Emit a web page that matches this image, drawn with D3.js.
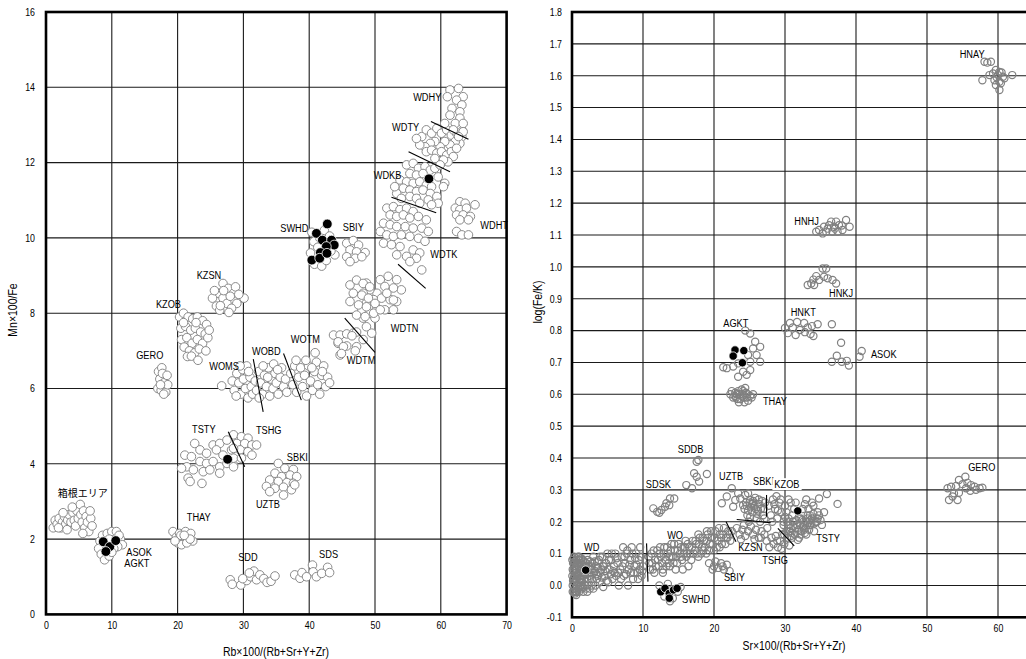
<!DOCTYPE html>
<html><head><meta charset="utf-8">
<script src="https://cdn.jsdelivr.net/npm/d3@7"></script>
<style>
html,body{margin:0;padding:0;background:#fff;}
svg{display:block;}
text{font-family:'Liberation Sans',Arial,sans-serif;fill:#000;}
</style></head><body>
<svg id="chart" width="1026" height="659"></svg>
<script>
// ---------- Left diagram: Mn×100/Fe against Rb×100/(Rb+Sr+Y+Zr) ----------
const mnHakone = [[1.1,2.3],[1.4,2.5],[1.7,2.4],[2.0,2.55],[2.3,2.3],[2.5,2.45],[2.8,2.6],[3.0,2.4],[3.3,2.5],[3.5,2.65],[3.2,2.25],[3.8,2.45],[4.1,2.7],[4.3,2.5],[4.5,2.35],[4.7,2.75],[4.9,2.55],[5.2,2.92],[5.3,2.65],[5.5,2.45],[5.7,2.75],[5.9,2.3],[6.1,2.6],[6.3,2.45],[6.5,2.2],[6.8,2.55],[7.0,2.35],[2.6,2.7],[4.0,2.85],[5.6,2.15],[1.9,2.3],[6.7,2.75]];
const mnAsokAgkt = [[8.2,1.95],[8.6,2.1],[9.3,2.15],[10.0,2.2],[10.7,2.2],[11.3,2.0],[11.6,1.85],[10.9,1.8],[10.3,1.75],[8.0,1.75],[8.4,1.6],[8.9,1.45],[9.6,1.55],[10.0,1.65],[11.1,2.1],[9.6,2.0]];
const mnAsokAgktDark = [[8.7,1.93],[9.7,1.8],[10.6,1.96],[9.1,1.67]];
const mnGero = [[17.1,6.45],[17.6,6.55],[18.1,6.35],[17.3,6.25],[17.9,6.15],[17.0,6.0],[17.5,5.95],[18.2,5.9],[18.5,6.1],[17.7,6.4],[18.4,6.35],[17.4,6.1],[17.9,5.85]];
const mnKzob = [[20.3,7.9],[20.9,8.0],[21.6,7.9],[22.3,7.85],[23.0,7.9],[23.8,7.8],[24.4,7.7],[20.5,7.6],[21.2,7.65],[22.0,7.55],[22.7,7.6],[23.5,7.5],[24.2,7.45],[20.6,7.3],[21.4,7.35],[22.2,7.2],[23.0,7.3],[23.8,7.2],[24.6,7.35],[21.0,7.1],[21.8,7.0],[22.6,6.95],[23.3,7.05],[24.3,7.0],[21.5,6.85],[22.1,6.86],[23.1,6.75],[20.9,7.75],[22.8,7.75],[24.8,7.55]];
const mnKzsn = [[26.9,8.79],[27.7,8.66],[26.2,8.53],[25.3,8.4],[26.9,8.4],[28.5,8.53],[29.7,8.4],[27.5,8.26],[29.0,8.26],[25.9,8.19],[28.2,8.13],[26.4,8.08],[30.1,8.4],[28.8,8.7],[28.0,8.45],[27.0,8.6],[29.3,8.5],[26.5,8.2],[27.8,8.02],[25.6,8.6]];
const mnWoms = [[26.7,6.07],[28.3,6.2],[28.6,5.95],[29.0,6.4],[29.3,6.15],[29.6,5.85],[29.9,6.5],[30.0,6.25],[30.3,6.0],[30.5,6.6],[30.7,5.75],[31.0,6.3],[31.2,6.05],[29.5,6.6],[30.8,6.45],[28.9,5.8],[31.4,5.85]];
const mnWobd = [[31.8,6.2],[32.0,5.95],[32.3,6.45],[32.6,6.15],[32.9,5.85],[33.2,6.35],[33.5,6.05],[33.8,6.55],[34.0,5.8],[34.2,6.25],[34.5,6.0],[34.8,6.4],[35.0,6.15],[35.3,5.85],[35.6,6.3],[35.8,6.55],[36.1,6.05],[36.4,6.25],[36.6,5.9],[33.0,6.6],[34.6,6.65],[35.2,6.5],[32.4,5.75],[33.7,6.3]];
const mnWotm = [[37.2,6.4],[37.5,6.1],[37.8,6.6],[38.1,5.9],[38.4,6.3],[38.7,6.55],[39.0,6.05],[39.3,6.35],[39.6,5.8],[39.9,6.6],[40.2,6.2],[40.5,5.95],[40.8,6.45],[41.1,6.7],[41.3,6.1],[41.6,5.85],[41.9,6.35],[42.2,6.6],[42.5,6.05],[42.8,6.3],[43.1,6.15],[40.9,6.95],[39.5,6.75],[38.0,6.75],[40.4,6.55],[42.0,6.45]];
const mnTsty = [[22.6,4.54],[21.1,4.23],[22.1,4.19],[23.4,4.37],[24.4,4.28],[25.4,4.5],[26.4,4.54],[25.9,4.37],[26.9,4.23],[23.4,4.06],[24.4,4.01],[21.4,3.92],[22.4,3.84],[20.6,3.88],[25.4,4.06],[26.4,3.92],[27.5,4.01],[28.5,3.97],[28.2,4.37],[23.9,3.79],[21.6,3.62],[23.7,3.48],[21.9,3.53],[26.4,3.75],[24.9,3.84],[28.5,4.15],[27.5,4.63]];
const mnTstyDark = [[27.6,4.12]];
const mnTshg = [[28.5,4.77],[29.7,4.72],[30.7,4.68],[29.0,4.54],[30.2,4.54],[31.3,4.5],[29.5,4.37],[30.7,4.32],[32.0,4.5],[28.5,4.41],[31.3,4.23],[29.7,4.15],[28.5,3.92]];
const mnUztb = [[35.3,4.01],[36.3,3.88],[37.6,3.85],[34.8,3.75],[35.8,3.66],[37.1,3.7],[38.1,3.66],[34.0,3.57],[35.3,3.53],[36.6,3.5],[37.6,3.48],[33.5,3.4],[34.8,3.35],[36.1,3.38],[37.3,3.31],[34.0,3.26],[36.1,3.17],[37.8,3.44]];
const mnThay = [[19.3,2.2],[19.8,2.05],[20.3,2.15],[20.8,2.0],[21.2,2.2],[21.6,2.05],[22.0,2.15],[22.3,1.95],[20.0,1.9],[20.6,1.85],[21.4,1.9],[21.9,2.0],[20.5,2.1],[21.0,2.1],[19.6,1.95]];
const mnSdd = [[28.0,0.92],[28.3,0.8],[29.6,0.78],[30.5,0.9],[31.1,1.0],[31.6,1.15],[32.0,0.92],[32.5,1.05],[33.1,0.95],[33.6,0.85],[34.2,0.88],[34.8,1.02],[30.9,1.1],[29.9,0.95]];
const mnSds = [[37.8,1.05],[38.6,0.96],[38.9,1.11],[40.5,1.31],[40.6,1.13],[41.1,1.0],[41.9,1.09],[42.8,1.25],[43.1,1.11],[39.6,1.0]];
const mnSwhd = [[40.4,10.15],[40.2,9.6],[40.7,9.9],[41.6,10.0],[42.3,10.2],[43.1,10.05],[43.9,9.55],[40.8,9.3],[41.9,9.25],[42.6,9.4],[43.3,9.65],[41.3,9.75]];
const mnSwhdDark = [[42.75,10.37],[41.1,10.12],[42.0,9.94],[43.4,9.94],[43.8,9.81],[42.6,9.77],[41.7,9.61],[40.4,9.41],[41.6,9.46],[42.7,9.59]];
const mnSbiy = [[45.7,9.86],[46.7,9.93],[47.5,9.81],[46.2,9.68],[47.2,9.63],[48.5,9.61],[45.7,9.5],[47.0,9.46],[46.2,9.37],[48.0,9.5]];
const mnWdtm = [[43.7,7.42],[44.7,7.42],[45.7,7.45],[46.7,7.47],[44.4,7.2],[45.7,7.13],[47.2,7.11],[44.7,6.89],[48.2,7.3],[44.4,7.24],[45.2,7.11],[47.0,7.0],[44.9,6.93],[47.2,7.5],[46.5,7.4]];
const mnWdtn = [[50.8,8.89],[52.0,8.98],[53.3,8.89],[54.0,8.62],[52.8,8.67],[51.5,8.71],[50.3,8.53],[48.7,8.8],[49.2,8.62],[48.2,8.53],[49.8,8.36],[51.0,8.4],[52.3,8.36],[53.3,8.31],[48.7,8.27],[50.3,8.13],[51.5,8.09],[52.8,8.09],[49.2,8.0],[48.2,7.87],[50.0,7.87],[48.7,7.64],[49.5,7.47],[48.0,8.09],[46.2,8.75],[47.2,8.88],[48.2,8.79],[49.2,8.7],[46.7,8.53],[48.0,8.48],[49.0,8.4],[46.2,8.31],[47.5,8.22],[48.7,8.17],[50.0,8.26],[47.2,7.95],[48.5,7.91],[49.8,8.0],[50.8,8.09],[51.8,8.53],[52.8,8.35]];
const mnWdtk = [[51.8,10.79],[52.8,10.83],[53.8,10.75],[54.8,10.79],[55.8,10.7],[52.3,10.61],[53.3,10.57],[54.3,10.61],[55.3,10.53],[56.6,10.57],[57.8,10.48],[57.1,10.26],[58.1,10.17],[51.3,10.39],[52.3,10.35],[53.3,10.3],[54.6,10.3],[55.8,10.26],[50.8,10.17],[51.8,10.08],[52.8,10.04],[54.0,10.08],[55.3,10.04],[56.6,9.99],[57.6,9.91],[51.3,9.86],[52.5,9.82],[53.8,9.77],[55.8,9.68],[56.8,9.6],[54.8,9.51],[56.3,9.46],[57.1,9.15],[55.3,9.37],[53.3,9.55]];
const mnWdkb = [[54.8,11.94],[55.8,11.98],[56.6,11.85],[57.6,11.89],[58.4,11.8],[59.1,11.85],[59.9,11.94],[55.3,11.71],[56.3,11.67],[57.3,11.71],[59.6,11.62],[60.6,11.45],[60.4,11.36],[53.8,11.54],[54.8,11.49],[55.8,11.45],[56.8,11.49],[57.8,11.4],[58.6,11.36],[54.3,11.32],[55.3,11.27],[56.3,11.23],[57.3,11.27],[58.4,11.18],[59.4,11.1],[59.6,10.92],[53.3,11.18],[54.0,11.05],[55.3,11.1],[56.3,11.05],[56.8,10.92],[58.1,11.01],[58.6,10.88],[53.0,11.36]];
const mnWdkbDark = [[58.2,11.57]];
const mnWdty = [[57.1,12.69],[57.8,12.87],[58.6,12.78],[59.4,12.91],[60.1,12.78],[60.9,12.87],[61.6,12.73],[62.4,12.78],[63.2,12.69],[62.9,12.51],[62.2,12.56],[61.4,12.47],[60.6,12.56],[59.9,12.42],[59.1,12.56],[58.4,12.51],[57.6,12.42],[56.8,12.47],[57.8,12.29],[58.6,12.33],[59.4,12.25],[60.1,12.29],[60.9,12.2],[61.6,12.29],[62.4,12.38],[61.9,12.16],[61.1,12.02],[60.4,12.07],[59.1,12.11],[59.9,11.94],[56.3,12.64],[63.2,12.87],[60.6,13.04],[62.4,13.0]];
const mnWdhy = [[61.4,13.93],[62.7,13.97],[63.4,13.75],[61.0,13.75],[62.4,13.66],[63.2,13.53],[61.7,13.44],[62.9,13.35],[61.4,13.26],[62.9,13.18],[62.2,13.04],[63.4,13.04],[61.9,12.87],[63.4,12.82],[62.7,12.69]];
const mnWdht = [[62.9,10.96],[63.7,10.92],[62.2,10.79],[62.9,10.75],[63.9,10.79],[65.2,10.88],[62.4,10.61],[63.4,10.61],[64.5,10.57],[62.9,10.48],[64.2,10.48],[62.4,10.17],[63.2,10.08],[64.2,10.08]];
const mnDividers = [
  [[58.5,13.09],[64.2,12.62]], [[55.1,12.29],[61.4,11.76]], [[52.5,11.08],[59.3,10.67]],
  [[53.5,9.30],[57.7,8.66]], [[45.4,7.87],[50.0,6.96]], [[31.5,6.78],[33.0,5.38]],
  [[36.1,6.93],[38.8,5.69]], [[27.7,4.85],[30.2,3.92]]
];
const mnLabels = [
  ['WDHY',55.8,13.74],['WDTY',52.6,12.95],['WDKB',49.8,11.67],['WDHT',66.0,10.34],
  ['WDTK',58.4,9.57],['WDTN',52.4,7.61],['WDTM',45.7,6.76],['WOTM',37.2,7.32],
  ['WOBD',31.3,7.0],['WOMS',24.8,6.6],['SWHD',35.6,10.26],['SBIY',45.1,10.29],
  ['KZSN',22.9,9.02],['KZOB',16.7,8.25],['GERO',13.7,6.88],['TSTY',22.2,4.92],
  ['TSHG',31.9,4.9],['SBKI',36.6,4.18],['UZTB',31.9,2.93],['箱根エリア',1.8,3.25],
  ['THAY',21.4,2.59],['ASOK',12.2,1.66],['AGKT',11.9,1.37],['SDD',29.2,1.53],['SDS',41.5,1.6]
];
const mnXTicks = [0,10,20,30,40,50,60,70];
const mnYTicks = [0,2,4,6,8,10,12,14,16];

// ---------- Right diagram: log(Fe/K) against Sr×100/(Rb+Sr+Y+Zr) ----------
const feWd = [[0.2,0.02],[0.3,0.06],[0.4,-0.01],[0.5,0.04],[0.6,0.08],[0.7,0.0],[0.8,0.03],[0.9,0.06],[1.0,-0.02],[1.1,0.02],[1.2,0.07],[1.3,0.05],[1.4,0.01],[1.5,0.08],[1.6,0.03],[1.8,0.0],[1.9,0.06],[2.1,0.02],[2.2,0.08],[2.4,0.04],[2.5,-0.01],[2.7,0.06],[2.8,0.02],[3.0,0.09],[3.1,0.04],[3.3,0.0],[3.4,0.06],[3.6,0.03],[3.8,0.08],[3.9,0.01],[4.1,0.05],[4.3,0.09],[4.4,-0.005],[4.6,0.03],[4.8,0.07],[5.0,0.1],[5.1,0.01],[5.3,0.05],[5.5,0.08],[5.7,0.02],[5.9,0.06],[6.1,0.1],[6.2,0.03],[6.4,0.07],[6.6,0.0],[6.8,0.05],[7.0,0.09],[7.2,0.12],[7.3,0.03],[7.5,0.07],[7.7,0.1],[7.9,0.0],[8.0,0.05],[8.2,0.08],[8.4,0.12],[8.6,0.02],[8.8,0.06],[9.0,0.1],[9.2,0.04],[9.4,0.08],[9.6,0.12],[9.8,0.03],[10.0,0.06],[0.1,0.05],[0.3,0.09],[0.5,-0.02],[1.0,0.09],[2.0,-0.01],[1.5,0.04],[0.8,0.07],[2.6,0.05],[3.5,0.02],[4.5,0.06],[6.0,0.04],[7.1,0.06],[8.3,0.04],[9.5,0.05],[1.2,0.0],[0.4,0.03],[2.3,0.06],
  [0.1,0.0],[0.15,0.07],[0.25,-0.02],[0.35,0.01],[0.45,0.07],[0.55,0.02],[0.65,0.05],[0.75,-0.015],[0.85,0.09],[0.95,0.03],[1.05,0.06],[1.15,-0.005],[1.25,0.04],[1.35,0.085],[1.45,-0.01],[1.55,0.06],[1.7,0.02],[1.75,0.075],[2.05,0.045],[2.15,-0.02],[2.35,0.02],[2.55,0.075],[2.75,0.0],[2.9,0.05],[3.2,0.075],[3.45,0.035],[3.7,0.055],[3.95,0.09],[4.2,0.025],[4.35,0.06],[4.7,0.045],[4.9,0.015],[5.2,0.08],[5.45,0.035],[5.6,0.1],[5.8,0.045],[6.3,0.085],[6.5,0.04],[6.9,0.02],[7.4,0.09],[7.6,0.035],[7.8,0.11],[8.1,0.065],[8.5,0.1],[8.7,0.04],[8.9,0.085],[9.1,0.065],[9.3,0.02],[9.7,0.09],[9.9,0.045],[0.05,0.03],[0.6,-0.03],[1.6,-0.02],[3.0,-0.01],[0.2,0.085],
  [0.05,0.08],[0.1,-0.02],[0.2,0.045],[0.3,0.025],[0.35,0.075],[0.45,-0.025],[0.5,0.06],[0.6,0.015],[0.7,0.065],[0.75,0.035],[0.9,-0.01],[0.95,0.08],[1.1,0.045],[1.2,0.085],[1.3,0.02],[1.4,0.065],[1.65,0.05],[1.85,0.035],[2.0,0.07],[2.2,0.0],[0.15,0.015],[0.4,0.05],[0.65,-0.02],[1.05,0.01],[1.5,-0.005],[2.45,0.03],[2.85,0.07],[3.25,0.045],[3.6,0.075],[4.0,0.04]];
const feWdDark = [[1.93,0.048]];
const feWo = [[10.9,0.07],[11.2,0.1],[11.4,0.05],[11.7,0.08],[12.0,0.11],[12.2,0.06],[12.5,0.09],[12.8,0.05],[13.0,0.12],[13.2,0.08],[13.5,0.1],[13.8,0.06],[14.0,0.13],[14.2,0.09],[14.5,0.11],[14.8,0.07],[15.0,0.13],[15.2,0.1],[15.5,0.08],[15.7,0.12],[16.0,0.14],[16.2,0.1],[16.5,0.12],[16.8,0.08],[17.0,0.14],[17.3,0.11],[17.5,0.13],[17.8,0.09],[18.0,0.15],[18.3,0.12],[18.6,0.14],[18.9,0.1],[19.1,0.16],[19.4,0.13],[19.7,0.15],[20.0,0.11],[20.2,0.17],[20.5,0.14],[20.8,0.16],[21.1,0.13],[21.4,0.18],[21.7,0.15],[22.0,0.17],[22.3,0.14],[11.6,0.04],[12.8,0.04],[13.6,0.07],[14.6,0.05],[15.6,0.05],[16.4,0.06],[19.0,0.17],[17.8,0.16],[14.0,0.09],[15.8,0.1],[18.5,0.11],[12.3,0.1],[20.8,0.12],
  [10.8,0.09],[11.0,0.05],[11.3,0.07],[11.5,0.11],[11.8,0.06],[12.1,0.08],[12.4,0.12],[12.7,0.07],[12.9,0.1],[13.3,0.06],[13.4,0.12],[13.7,0.09],[13.9,0.11],[14.3,0.07],[14.4,0.13],[14.7,0.09],[14.9,0.11],[15.3,0.12],[15.4,0.09],[15.9,0.12],[16.1,0.09],[16.3,0.13],[16.6,0.1],[16.9,0.12],[17.1,0.1],[17.4,0.14],[17.6,0.1],[17.9,0.13],[18.2,0.1],[18.4,0.15],[18.7,0.12],[19.0,0.14],[19.3,0.11],[19.6,0.17],[19.8,0.13],[20.1,0.15],[20.4,0.12],[20.7,0.18],[21.0,0.15],[21.3,0.16],[21.6,0.13],[21.9,0.15],[22.2,0.16],[22.5,0.17]];
const feSbiy = [[19.3,0.07],[19.8,0.05],[20.2,0.075],[20.6,0.055],[21.0,0.07],[21.4,0.05],[21.8,0.065],[22.2,0.045],[20.0,0.06],[21.2,0.06]];
const feSwhd = [[12.3,0.0],[13.0,-0.035],[13.5,0.005],[14.2,-0.04],[14.9,-0.02],[15.3,-0.005],[13.8,-0.05],[12.8,-0.015]];
const feSwhdDark = [[12.5,-0.02],[13.1,-0.009],[13.7,-0.025],[14.3,-0.014],[14.8,-0.009],[13.7,-0.04]];
const feSdsk = [[11.45,0.242],[12.0,0.231],[12.6,0.237],[13.1,0.247],[13.3,0.258],[13.8,0.273],[14.4,0.273],[13.7,0.252],[12.3,0.228]];
const feSddb = [[17.56,0.388],[17.8,0.394],[17.2,0.352],[17.56,0.341],[19.0,0.35],[17.9,0.326],[16.9,0.305],[16.1,0.315]];
const feUztb = [[21.1,0.258],[21.8,0.279],[22.5,0.305],[23.0,0.268],[23.7,0.273],[24.4,0.284],[25.1,0.268],[25.5,0.258],[22.7,0.247],[24.1,0.252],[23.4,0.289],[24.8,0.289]];
const feSbki = [[24.3,0.24],[24.7,0.22],[25.0,0.26],[25.4,0.23],[25.7,0.25],[26.0,0.21],[26.3,0.27],[26.6,0.24],[26.9,0.22],[27.2,0.26],[24.9,0.2],[25.8,0.275],[26.5,0.2],[24.5,0.26],[27.0,0.24],[25.2,0.245],[26.2,0.235],
  [24.6,0.25],[25.1,0.215],[25.5,0.265],[25.9,0.24],[26.4,0.255],[26.8,0.265],[27.1,0.21],[24.8,0.235],[26.1,0.225],[25.3,0.255]];
const feKzob = [[27.7,0.25],[28.0,0.22],[28.3,0.27],[28.6,0.24],[28.9,0.21],[29.2,0.26],[29.5,0.23],[30.0,0.25],[30.5,0.27],[31.0,0.22],[31.5,0.26],[32.5,0.24],[33.0,0.27],[33.5,0.22],[34.0,0.25],[34.3,0.2],[34.8,0.273],[35.9,0.287],[37.4,0.256],[33.8,0.26],[34.6,0.23],[32.2,0.21],[29.8,0.2],[28.2,0.2],[33.3,0.24],
  [28.5,0.255],[29.0,0.235],[29.4,0.27],[30.2,0.23],[30.8,0.26],[31.3,0.24],[32.8,0.255],[33.2,0.21],[28.8,0.28]];
const feKzobDark = [[31.8,0.234]];
const feTsty = [[29.8,0.19],[30.2,0.17],[30.5,0.21],[30.8,0.18],[31.1,0.2],[31.4,0.16],[31.7,0.19],[32.0,0.21],[32.3,0.17],[32.6,0.2],[32.9,0.18],[33.2,0.22],[33.5,0.19],[33.8,0.21],[34.1,0.17],[34.5,0.2],[34.8,0.22],[35.2,0.19],[35.5,0.23],[31.0,0.15],[32.0,0.15],[33.0,0.16],[30.5,0.19],[31.5,0.18],[32.5,0.185],[33.5,0.205],[30.0,0.215],[34.0,0.225],[31.9,0.175],[33.0,0.2],[30.9,0.165],[32.8,0.165],[29.9,0.16],[31.8,0.143],
  [30.3,0.2],[30.7,0.17],[31.2,0.185],[31.6,0.205],[32.1,0.19],[32.4,0.205],[32.7,0.175],[33.1,0.19],[33.4,0.175],[33.7,0.195],[34.2,0.195],[34.6,0.21],[30.8,0.155],[32.2,0.16],[35.0,0.205]];
const feTshg = [[27.4,0.14],[27.8,0.12],[28.1,0.15],[28.4,0.13],[28.7,0.155],[29.0,0.12],[29.3,0.14],[29.6,0.16],[29.9,0.13],[30.3,0.15],[30.6,0.125],[28.9,0.14],[29.5,0.115],[26.6,0.15]];
const feKzsn = [[23.2,0.18],[23.6,0.16],[24.0,0.175],[24.4,0.155],[24.8,0.17],[25.2,0.185],[25.5,0.16],[25.9,0.175],[26.3,0.15],[26.7,0.17],[27.1,0.16],[27.5,0.18],[24.2,0.19],[25.7,0.145],[23.8,0.145]];
const feAgkt = [[25.1,0.791],[25.8,0.765],[26.5,0.749],[25.5,0.744],[24.8,0.723],[26.0,0.723],[25.1,0.702],[26.5,0.702],[23.4,0.697],[22.7,0.687],[21.8,0.682],[24.1,0.671],[25.1,0.676],[23.4,0.655],[24.6,0.661],[21.3,0.685],[24.4,0.8]];
const feAgktDark = [[22.96,0.739],[24.2,0.737],[22.7,0.72],[24.0,0.699]];
const feThay = [[22.3,0.6],[22.7,0.59],[23.0,0.605],[23.3,0.585],[23.6,0.6],[23.9,0.615],[24.2,0.59],[24.5,0.605],[24.8,0.58],[25.1,0.595],[25.5,0.6],[23.5,0.575],[24.3,0.575],[24.0,0.6],[23.2,0.6],[24.7,0.6],[22.9,0.595],[24.4,0.62],
  [22.5,0.61],[23.1,0.59],[23.7,0.585],[24.1,0.61],[24.6,0.59],[25.3,0.59],[23.4,0.61]];
const feAsok = [[37.9,0.762],[37.3,0.721],[36.6,0.702],[38.0,0.702],[38.7,0.705],[39.0,0.69],[40.5,0.718],[40.8,0.736]];
const feHnkt = [[30.0,0.808],[30.7,0.824],[31.7,0.827],[32.7,0.824],[32.1,0.802],[33.8,0.814],[34.6,0.82],[30.4,0.792],[31.5,0.786],[32.8,0.795],[33.6,0.789],[34.0,0.783],[36.6,0.82],[31.1,0.81],[33.2,0.81]];
const feHnkj = [[35.3,0.995],[35.8,0.995],[34.4,0.971],[33.7,0.948],[34.8,0.959],[36.0,0.964],[36.7,0.959],[37.2,0.948],[33.2,0.943],[34.1,0.943],[35.5,0.969],[34.0,0.96]];
const feHnhj = [[38.6,1.147],[34.8,1.116],[35.5,1.126],[36.2,1.131],[36.9,1.126],[37.6,1.131],[39.1,1.126],[38.1,1.116],[36.7,1.11],[35.8,1.11],[34.4,1.11],[37.4,1.11],[36.5,1.142],[37.2,1.142],[35.3,1.105],[36.0,1.12],[37.0,1.12],[38.0,1.13]];
const feHnay = [[58.1,1.644],[58.5,1.641],[59.0,1.644],[59.7,1.618],[60.2,1.612],[59.3,1.607],[60.0,1.602],[58.8,1.602],[60.7,1.597],[57.8,1.586],[59.5,1.586],[60.2,1.581],[60.9,1.592],[62.0,1.602],[59.7,1.571],[60.2,1.555],[60.4,1.576],[59.8,1.595],[60.5,1.61]];
const feGero = [[53.4,0.31],[52.9,0.305],[54.1,0.312],[54.5,0.331],[55.4,0.341],[55.0,0.318],[55.7,0.322],[56.2,0.315],[56.7,0.31],[57.4,0.305],[57.8,0.307],[56.9,0.3],[55.5,0.305],[54.5,0.291],[53.8,0.289],[53.1,0.268],[54.3,0.268],[53.6,0.279],[56.1,0.297]];
const feDividers = [
  [[10.5,0.132],[10.7,0.012]], [[21.7,0.2],[23.1,0.137]], [[27.4,0.284],[27.4,0.216]],
  [[23.2,0.207],[28.0,0.197]], [[29.0,0.179],[31.3,0.124]]
];
const feLabels = [
  ['HNAY',54.6,1.668],['HNHJ',31.3,1.144],['HNKJ',36.2,0.918],['HNKT',30.8,0.858],
  ['ASOK',42.1,0.726],['AGKT',21.3,0.824],['THAY',26.9,0.579],['SDDB',14.9,0.428],
  ['SDSK',10.4,0.318],['UZTB',20.7,0.344],['SBKI',25.5,0.328],['KZOB',28.5,0.318,true],
  ['GERO',55.8,0.372],['TSTY',34.4,0.149],['TSHG',26.8,0.08],['KZSN',23.4,0.121],
  ['SBIY',21.4,0.027],['SWHD',15.5,-0.042],['WO',13.4,0.158],['WD',1.7,0.121]
];
const feXTicks = [0,10,20,30,40,50,60];
const feYTicks = [-0.1,0,0.1,0.2,0.3,0.4,0.5,0.6,0.7,0.8,0.9,1.0,1.1,1.2,1.3,1.4,1.5,1.6,1.7,1.8];

// ---------- drawing ----------
const NARROW = 0.84;   // condensed lettering
const svg = d3.select('#chart');
svg.append('rect').attr('width',1026).attr('height',659).attr('fill','#fff');

function condense(sel){
  sel.each(function(){
    const t = d3.select(this);
    const x0 = +t.attr('x') || 0;
    const base = t.attr('transform') || '';
    t.attr('transform', `${base} translate(${x0},0) scale(${NARROW},1) translate(${-x0},0)`);
  });
}

function panel(cfg){
  const g = svg.append('g');
  const x = cfg.x, y = cfg.y;
  const [x0,x1] = x.range(), [y0,y1] = y.range();
  // grid
  g.append('g').selectAll('line').data(cfg.vGrid).join('line')
    .attr('x1',d=>x(d)).attr('x2',d=>x(d)).attr('y1',y0).attr('y2',y1)
    .attr('stroke','#1a1a1a').attr('stroke-width',1.1);
  g.append('g').selectAll('line').data(cfg.hGrid).join('line')
    .attr('x1',x0).attr('x2',x1).attr('y1',d=>y(d)).attr('y2',d=>y(d))
    .attr('stroke','#1a1a1a').attr('stroke-width',1.1);
  // frame
  g.append('rect').attr('x',x0).attr('y',y1).attr('width',x1-x0).attr('height',y0-y1)
    .attr('fill','none').attr('stroke','#000').attr('stroke-width',2.6);
  // open symbols
  g.append('g').selectAll('circle').data(cfg.open).join('circle')
    .attr('cx',d=>x(d[0])).attr('cy',d=>y(d[1])).attr('r',cfg.r)
    .attr('fill',cfg.openFill).attr('stroke',cfg.openStroke).attr('stroke-width',cfg.openWidth);
  // filled symbols
  g.append('g').selectAll('circle').data(cfg.dark).join('circle')
    .attr('cx',d=>x(d[0])).attr('cy',d=>y(d[1])).attr('r',cfg.r+0.6)
    .attr('fill','#000').attr('stroke','#fff').attr('stroke-width',0.8);
  // group boundaries
  g.append('g').selectAll('line').data(cfg.dividers).join('line')
    .attr('x1',d=>x(d[0][0])).attr('y1',d=>y(d[0][1]))
    .attr('x2',d=>x(d[1][0])).attr('y2',d=>y(d[1][1]))
    .attr('stroke','#000').attr('stroke-width',1.1);
  // group names
  const lab = g.append('g').selectAll('g').data(cfg.labels).join('g')
    .attr('transform',d=>`translate(${x(d[1])},${y(d[2])})`);
  const cjk = s => /[^\x00-\x7f]/.test(s);
  const txt = lab.append('text').text(d=>d[0])
    .attr('font-size',d=>cjk(d[0])?10:11)
    .style('font-family',d=>cjk(d[0])?"'Noto Sans CJK JP',sans-serif":null)
    .attr('dominant-baseline','central');
  condense(txt.filter(d=>!cjk(d[0])));
  lab.filter(d=>d[3]).insert('rect','text').each(function(){
    const b = this.parentNode.querySelector('text').getBBox();
    d3.select(this).attr('x',b.x*NARROW-2).attr('y',b.y).attr('width',b.width*NARROW+4).attr('height',b.height).attr('fill','#fff');
  });
  // axes
  const ax = g.append('g').attr('transform',`translate(0,${y0})`)
    .call(d3.axisBottom(x).tickValues(cfg.xTicks).tickSize(0).tickPadding(cfg.xPad).tickFormat(d3.format('d')));
  const ay = g.append('g').attr('transform',`translate(${x0},0)`)
    .call(d3.axisLeft(y).tickValues(cfg.yTicks).tickSize(0).tickPadding(cfg.yPad).tickFormat(cfg.yFmt));
  [ax,ay].forEach(a=>{
    a.select('.domain').remove();
    a.selectAll('text').attr('font-size',10.5).attr('font-family',null).attr('fill','#000');
    condense(a.selectAll('text'));
  });
  // titles
  const xt = g.append('text').text(cfg.xTitle).attr('x',cfg.xTitlePos[0]).attr('y',cfg.xTitlePos[1])
    .attr('text-anchor','middle').attr('dominant-baseline','central').attr('font-size',12.5);
  condense(xt);
  g.append('text').text(cfg.yTitle)
    .attr('transform',`translate(${cfg.yTitlePos[0]},${cfg.yTitlePos[1]}) rotate(-90) scale(${NARROW},1)`)
    .attr('text-anchor','middle').attr('dominant-baseline','central').attr('font-size',12.5);
}

const mnOpen = [].concat(mnHakone,mnAsokAgkt,mnGero,mnKzob,mnKzsn,mnWoms,mnWobd,mnWotm,mnTsty,mnTshg,mnUztb,mnThay,mnSdd,mnSds,mnSwhd,mnSbiy,mnWdtm,mnWdtn,mnWdtk,mnWdkb,mnWdty,mnWdhy,mnWdht);
const mnDark = [].concat(mnAsokAgktDark,mnTstyDark,mnSwhdDark,mnWdkbDark);

panel({
  x: d3.scaleLinear([0,70],[46,506.6]),
  y: d3.scaleLinear([0,16],[614.4,12]),
  vGrid:[10,20,30,40,50,60], hGrid:[2,4,6,8,10,12,14],
  open: mnOpen, dark: mnDark, r:4.3, openFill:'#fff', openStroke:'#8a8a8a', openWidth:1,
  dividers: mnDividers, labels: mnLabels,
  xTicks: mnXTicks, yTicks: mnYTicks, xPad:7, yPad:11, yFmt:d3.format('d'),
  xTitle:'Rb×100/(Rb+Sr+Y+Zr)', xTitlePos:[276,652],
  yTitle:'Mn×100/Fe', yTitlePos:[13,310]
});

const feOpen = [].concat(feWd,feWo,feSbiy,feSwhd,feSdsk,feSddb,feUztb,feSbki,feKzob,feTsty,feTshg,feKzsn,feAgkt,feThay,feAsok,feHnkt,feHnkj,feHnhj,feHnay,feGero);
const feDark = [].concat(feWdDark,feSwhdDark,feKzobDark,feAgktDark);

panel({
  x: d3.scaleLinear([0,70],[572,1069]),
  y: d3.scaleLinear([-0.1,1.8],[617.3,12]),
  vGrid:[10,20,30,40,50,60], hGrid:feYTicks.slice(1,-1),
  open: feOpen, dark: feDark, r:3.6, openFill:'none', openStroke:'#808080', openWidth:1.2,
  dividers: feDividers, labels: feLabels,
  xTicks: feXTicks, yTicks: feYTicks, xPad:7, yPad:10, yFmt:d=>d.toFixed(1),
  xTitle:'Sr×100/(Rb+Sr+Y+Zr)', xTitlePos:[794,646],
  yTitle:'log(Fe/K)', yTitlePos:[538,302]
});
</script></body></html>
